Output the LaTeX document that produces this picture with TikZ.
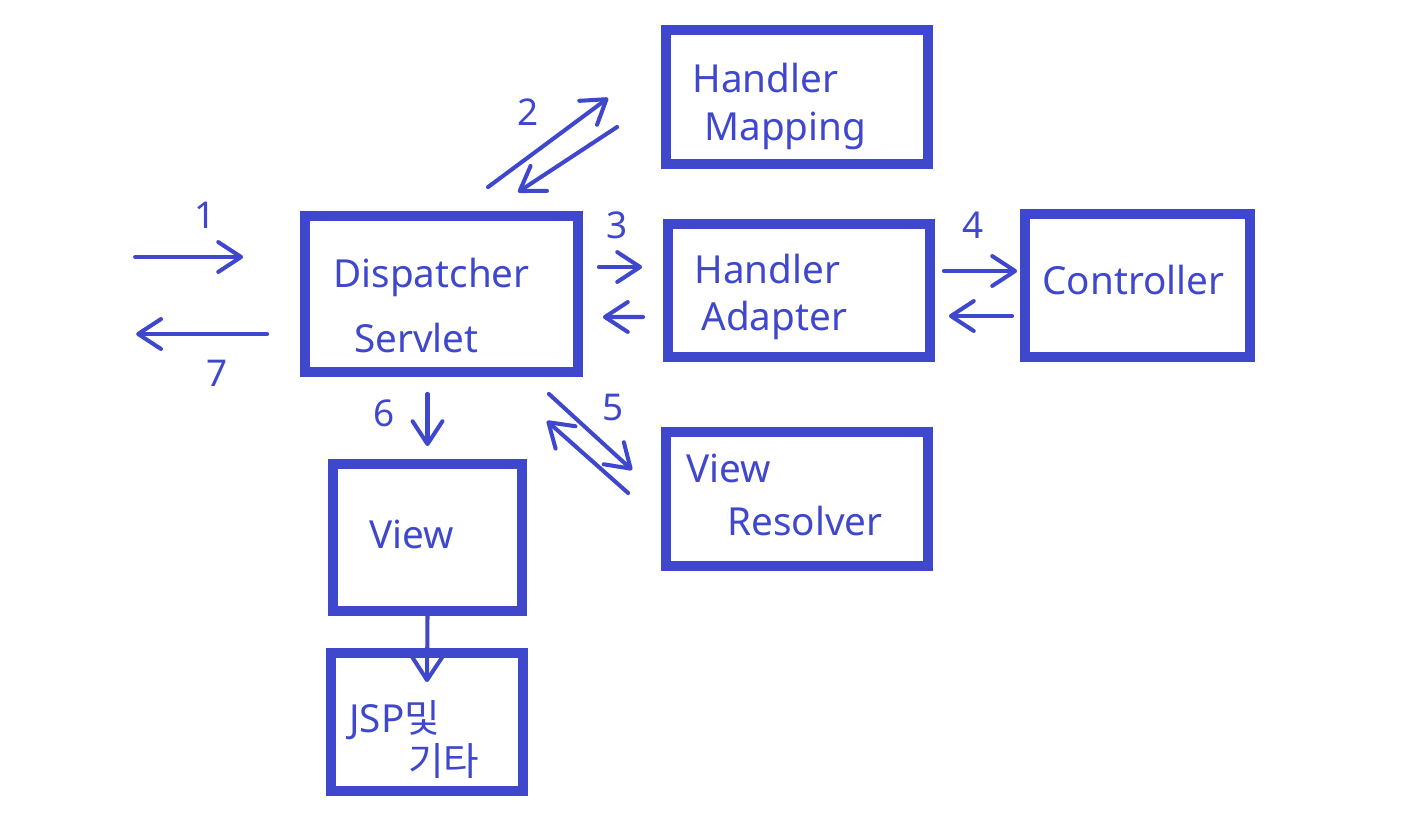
\documentclass[tikz,border=0pt]{standalone}
\usepackage{fontspec}
\setmainfont{Noto Sans}
\newfontfamily\kofont{Noto Sans CJK KR}
\usepackage{tikz}
\usetikzlibrary{arrows.meta}
\definecolor{pen}{RGB}{63,72,204}
\tikzset{Box/.style={rectangle, draw=pen, line width=5.6pt},
  Txt/.style={anchor=base west, inner sep=0, text=pen, font=\fontsize{22}{26}\selectfont},
  Num/.style={inner sep=0, text=pen, font=\fontsize{21}{24}\selectfont},
  Arr/.style={draw=pen, line width=2.3pt, line cap=round, -{Straight Barb[length=13pt, width=17pt, round]}}}

\begin{document}
\begin{tikzpicture}[x=0.02cm, y=-0.02cm]
    \useasboundingbox (0,0) rectangle (1416,836);
    \path
    (441.5,294) node[Box, minimum width=5.46cm, minimum height=3.12cm] (ds) {}
    (797,97) node[Box, minimum width=5.24cm, minimum height=2.68cm] (hm) {}
    (799,290.5) node[Box, minimum width=5.24cm, minimum height=2.66cm] (ha) {}
    (1137.5,285.5) node[Box, minimum width=4.5cm, minimum height=2.86cm] (ctrl) {}
    (797,499) node[Box, minimum width=5.24cm, minimum height=2.68cm] (vr) {}
    (427.5,537.5) node[Box, minimum width=3.78cm, minimum height=2.94cm] (view) {}
    (427,722) node[Box, minimum width=3.84cm, minimum height=2.76cm] (jsp) {};

    \path (333,287) node[Txt] (dsa) {Dispatcher}
    (354,352) node[Txt] (dsb) {Servlet}
    (692,92) node[Txt] (hma) {Handler}
    (704,140) node[Txt] (hmb) {Mapping}
    (694,283) node[Txt] (haa) {Handler}
    (701,330) node[Txt] (hab) {Adapter}
    (1042,294) node[Txt] (ctrla) {Controller}
    (686,482) node[Txt] (vra) {View}
    (727,535) node[Txt] (vrb) {Resolver}
    (369,548) node[Txt] (viewa) {View}
    (349,732) node[Txt] (jspa) {JSP{\kofont 및}}
    (408,775) node[Txt] (jspb) {\kofont 기타};

    \path (205,215) node[Num] (n1) {1}
    (528,112) node[Num] (n2) {2}
    (617,225) node[Num] (n3) {3}
    (973,225) node[Num] (n4) {4}
    (613,408) node[Num] (n5) {5}
    (384,413) node[Num] (n6) {6}
    (217,373) node[Num] (n7) {7};

    \draw[Arr] ([shift={(-165,-37)}]ds.west) -- ([shift={(-57,-37)}]ds.west);
    \draw[Arr] ([shift={(-33,40)}]ds.west) -- ([shift={(-164,40)}]ds.west);
    \draw[Arr] ([shift={(46.5,-24)}]ds.north) -- ([shift={(-53,1)}]hm.west);
    \draw[Arr] ([shift={(-44,30)}]hm.west) -- ([shift={(76.5,-19)}]ds.north);
    \draw[Arr] ([shift={(16,-27)}]ds.east) -- ([shift={(-21,-23.5)}]ha.west);
    \draw[Arr] ([shift={(-20,26.5)}]ha.west) -- ([shift={(20,23)}]ds.east);
    \draw[Arr] ([shift={(9,-19.5)}]ha.east) -- ([shift={(-3,-14.5)}]ctrl.west);
    \draw[Arr] ([shift={(-8,30.5)}]ctrl.west) -- ([shift={(14,25.5)}]ha.east);
    \draw[Arr] ([shift={(-34,17)}]ds.south east) -- ([shift={(-29,-29)}]vr.west);
    \draw[Arr] ([shift={(-33,-6)}]vr.west) -- ([shift={(-36,44)}]ds.south east);
    \draw[Arr] ([shift={(-14,17)}]ds.south) -- ([shift={(0,-13)}]view.north);
    \draw[Arr] (view.south) -- ([shift={(0,34)}]jsp.north);
\end{tikzpicture}
\end{document}
